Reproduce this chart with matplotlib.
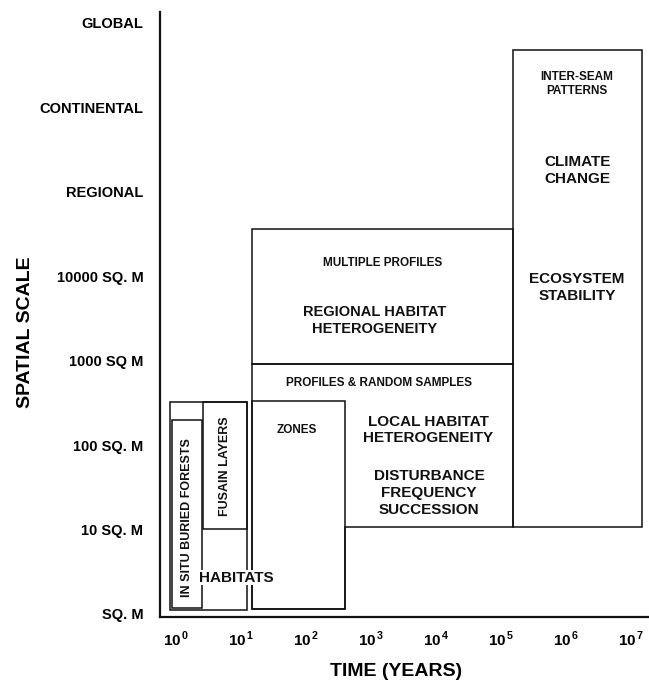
import matplotlib
matplotlib.use("Agg")
import matplotlib.pyplot as plt
from matplotlib.patches import Rectangle, Polygon

plt.rcParams['font.family'] = ['Liberation Sans', 'DejaVu Sans']
plt.rcParams['font.weight'] = 'bold'
plt.rcParams['mathtext.fontset'] = 'custom'
plt.rcParams['mathtext.rm'] = 'Liberation Sans:bold'
plt.rcParams['mathtext.bf'] = 'Liberation Sans:bold'

# y axis: spatial scale levels
y_levels = [0, 1, 2, 3, 4, 5, 6, 7]
y_labels = ['SQ. M', '10 SQ. M', '100 SQ. M', '1000 SQ M', '10000 SQ. M',
            'REGIONAL', 'CONTINENTAL', 'GLOBAL']

# x axis: time in years (log scale)
x_exps = [0, 1, 2, 3, 4, 5, 6, 7]

# rectangles: (t_start, t_end, scale_low, scale_high)
habitats_box = (0.81, 12.3, 0.05, 2.51)
insitu_box = (0.87, 2.5, 0.07, 2.30)
fusain_box = (2.6, 12.3, 1.01, 2.51)
zones_box = (14.8, 400, 0.06, 2.52)
multi_box = (14.8, 155000, 2.96, 4.56)
longterm_box = (155000, 1.48e7, 1.03, 6.68)
# L-shaped profiles & random samples region
profiles_poly = [(14.8, 0.06), (14.8, 2.96), (155000, 2.96), (155000, 1.03),
                 (400, 1.03), (400, 0.06)]

# labels: (text, t, scale, size, rotation)
labels = [
    ('IN SITU BURIED FORESTS', 1.48, 1.14, 9, 90),
    ('FUSAIN LAYERS', 5.7, 1.75, 9, 90),
    ('ZONES', 72, 2.18, 8.5, 0),
    ('PROFILES & RANDOM SAMPLES', 1330, 2.74, 8.5, 0),
    ('LOCAL HABITAT\nHETEROGENEITY', 7550, 2.18, 11, 0),
    ('DISTURBANCE\nFREQUENCY\nSUCCESSION', 7800, 1.43, 11, 0),
    ('MULTIPLE PROFILES', 1520, 4.16, 8.5, 0),
    ('REGIONAL HABITAT\nHETEROGENEITY', 1150, 3.48, 10.5, 0),
    ('INTER-SEAM\nPATTERNS', 1.48e6, 6.28, 8.5, 0),
    ('CLIMATE\nCHANGE', 1.48e6, 5.25, 11, 0),
    ('ECOSYSTEM\nSTABILITY', 1.48e6, 3.87, 11, 0),
]

fig = plt.figure(figsize=(6.49, 6.85), dpi=100)
ax = fig.add_axes([0.2465, 0.0993, 0.752, 0.8832])
ax.set_xscale('log')
ax.set_xlim(10 ** -0.246, 10 ** 7.26)
ax.set_ylim(-0.036, 7.13)

lw = 1.1
for (x0, x1, y0, y1) in [habitats_box, insitu_box, fusain_box, zones_box,
                         multi_box, longterm_box]:
    ax.add_patch(Rectangle((x0, y0), x1 - x0, y1 - y0, fill=False,
                           edgecolor='#111111', linewidth=lw))
ax.add_patch(Polygon(profiles_poly, closed=True, fill=False,
                     edgecolor='#111111', linewidth=lw))

for text, t, s, size, rot in labels:
    ax.text(t, s, text, ha='center', va='center', fontsize=size,
            rotation=rot, multialignment='center', color='#111111',
            linespacing=1.25)

# HABITATS label sits over the box edges
ax.text(8.4, 0.43, 'HABITATS', ha='center', va='center', fontsize=11,
        color='#111111', zorder=5,
        bbox=dict(facecolor='white', edgecolor='none', pad=0.5))

ax.set_yticks(y_levels)
ax.set_yticklabels(y_labels, fontsize=10.5, fontweight='bold')
ax.set_xticks([10.0 ** e for e in x_exps])
ax.set_xticklabels([r'$10^{\,%d}$' % e for e in x_exps], fontsize=11)
ax.minorticks_off()
ax.tick_params(axis='y', length=0, pad=12)
ax.tick_params(axis='x', length=0, pad=9)

for side in ['top', 'right']:
    ax.spines[side].set_visible(False)
for side in ['left', 'bottom']:
    ax.spines[side].set_linewidth(1.6)
    ax.spines[side].set_color('#111111')

ax.set_ylabel('SPATIAL SCALE', fontsize=14, fontweight='bold')
ax.yaxis.set_label_coords(-0.258, 0.471)
ax.set_xlabel('TIME (YEARS)', fontsize=14, fontweight='bold')
ax.xaxis.set_label_coords(0.4836, -0.076)

fig.savefig('out.png', dpi=100, facecolor='white')
